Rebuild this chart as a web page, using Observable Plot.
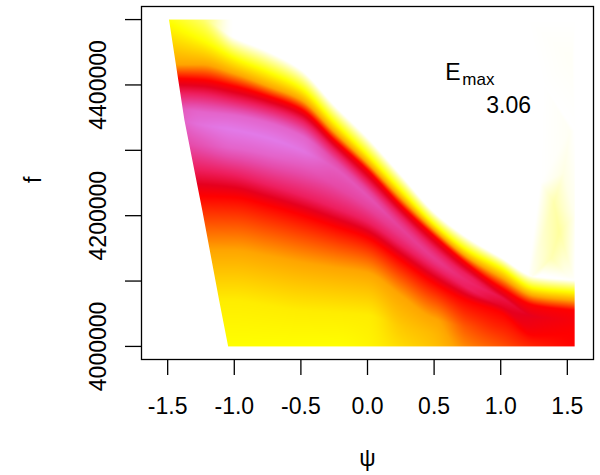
<!DOCTYPE html>
<html>
<head>
<meta charset="utf-8">
<script src="https://cdn.jsdelivr.net/npm/d3@7"></script>
<script src="https://cdn.jsdelivr.net/npm/@observablehq/plot@0.6"></script>
<style>
html,body{margin:0;padding:0;background:#fff;}
#chart svg{display:block;}
</style>
</head>
<body>
<div id="chart"></div>
<script>
// Axis ticks
const xTicks = [-1.5, -1.0, -0.5, 0, 0.5, 1.0, 1.5];
const yTicks = [4000000, 4100000, 4200000, 4300000, 4400000, 4500000];
const yTickLabels = [4000000, 4200000, 4400000];
const eMax = 3.06;

// Colour key (E value -> colour)
const colorStops = [0, 0.5, 1.0, 1.5, 1.72, 2.0, 2.5, 3.06];
const colorRange = ["#ffffff", "#ffff00", "#ffa500", "#ff0000", "#e6001e", "#ee1e5e", "#e64aa8", "#e27ae8"];

// Field read column by column (psi): the same 14 features along every column, top to bottom
// (top, white edge, yellow, orange, red, crimson, upper violet, peak, lower violet,
//  lower crimson, lower red, orange, yellow-orange, bottom)
const psiColumns = [-1.6, -1.25, -1.0, -0.75, -0.5, -0.25, 0, 0.25, 0.5, 0.75, 1.0, 1.25, 1.56];
const fProfiles = [
  [4500000, 4500000, 4500000, 4431000, 4411000, 4389000, 4370000, 4354000, 4316000, 4277000, 4231000, 4150000, 4074000, 4000000],
  [4500000, 4500000, 4469000, 4431000, 4408000, 4386000, 4359000, 4339000, 4308000, 4270000, 4230000, 4147000, 4070000, 4000000],
  [4500000, 4472000, 4441000, 4417000, 4398000, 4377000, 4354000, 4331000, 4303000, 4262000, 4228000, 4147000, 4070000, 4000000],
  [4500000, 4451000, 4420000, 4398000, 4383000, 4365000, 4343000, 4319000, 4293000, 4247000, 4216000, 4139000, 4063000, 4000000],
  [4500000, 4423000, 4395000, 4377000, 4363000, 4346000, 4323000, 4300000, 4277000, 4231000, 4201000, 4129000, 4055000, 4000000],
  [4500000, 4369000, 4343000, 4328000, 4316000, 4300000, 4285000, 4273000, 4247000, 4212000, 4184000, 4121000, 4052000, 4000000],
  [4500000, 4319000, 4293000, 4280000, 4270000, 4251000, 4240000, 4230000, 4212000, 4190000, 4166000, 4113000, 4048000, 4000000],
  [4500000, 4262000, 4239000, 4227000, 4216000, 4199000, 4190000, 4181000, 4168000, 4155000, 4132000, 4078000, 4030000, 4000000],
  [4500000, 4205000, 4187000, 4178000, 4169000, 4150000, 4142000, 4135000, 4128000, 4120000, 4097000, 4043000, 4020000, 4000000],
  [4500000, 4166000, 4147000, 4136000, 4126000, 4109000, 4104000, 4100000, 4095000, 4089000, 4070000, 4030000, 4010000, 4000000],
  [4500000, 4136000, 4120000, 4106000, 4090000, 4080000, 4077000, 4075000, 4070000, 4062000, 4052000, 4030000, 4010000, 4000000],
  [4500000, 4107000, 4089000, 4077000, 4063000, 4055000, 4050000, 4046000, 4040000, 4030000, 4017000, 4010000, 4005000, 4000000],
  [4500000, 4101000, 4083000, 4070000, 4055000, 4050000, 4045000, 4040000, 4035000, 4030000, 4020000, 4010000, 4005000, 4000000]
];
const eProfiles = [
  [0.55, 0.55, 0.55, 1.0, 1.5, 2.0, 2.3, 2.4, 2.3, 2.0, 1.5, 1.0, 0.65, 0.5],
  [0.3, 0.3, 0.5, 1.0, 1.5, 2.0, 2.8, 2.95, 2.6, 2.0, 1.5, 1.0, 0.6, 0.5],
  [0, 0, 0.5, 1.0, 1.5, 2.0, 2.8, 3.06, 2.8, 2.0, 1.5, 1.0, 0.6, 0.5],
  [0, 0, 0.5, 1.0, 1.5, 2.0, 2.8, 3.06, 2.8, 2.0, 1.5, 1.0, 0.6, 0.5],
  [0, 0, 0.5, 1.0, 1.5, 2.0, 2.8, 3.0, 2.7, 2.0, 1.5, 1.0, 0.6, 0.5],
  [0, 0, 0.5, 1.0, 1.5, 2.0, 2.5, 2.7, 2.5, 2.0, 1.5, 1.0, 0.6, 0.5],
  [0, 0, 0.5, 1.0, 1.5, 2.0, 2.4, 2.6, 2.4, 2.0, 1.5, 1.0, 0.6, 0.55],
  [0, 0, 0.5, 1.0, 1.5, 2.0, 2.25, 2.4, 2.25, 2.0, 1.5, 1.0, 0.8, 0.7],
  [0, 0, 0.5, 1.0, 1.5, 2.0, 2.2, 2.3, 2.2, 2.0, 1.5, 1.0, 0.9, 0.85],
  [0, 0, 0.5, 1.0, 1.5, 2.0, 2.05, 2.1, 2.05, 2.0, 1.5, 1.25, 1.15, 1.1],
  [0, 0, 0.5, 1.0, 1.5, 1.75, 1.85, 1.9, 1.85, 1.75, 1.5, 1.4, 1.3, 1.25],
  [0, 0, 0.5, 1.0, 1.5, 1.6, 1.65, 1.7, 1.65, 1.6, 1.5, 1.45, 1.42, 1.4],
  [0, 0, 0.5, 1.0, 1.5, 1.52, 1.54, 1.55, 1.54, 1.52, 1.5, 1.5, 1.5, 1.5]
];

// Faint pale-yellow traces at the upper right (psi, f, E)
const glowPsi = [1.40, 1.44, 1.38, 1.47, 1.52, 1.53, 1.555, 1.48, 1.20, 1.20, 1.32, 1.30, 1.30, 1.555, 1.555, 1.42, 1.555];
const glowF = [4220000, 4175000, 4135000, 4265000, 4330000, 4440000, 4200000, 4112000, 4500000, 4100000, 4400000, 4250000, 4110000, 4100000, 4500000, 4500000, 4330000];
const glowE = [0.16, 0.19, 0.15, 0.05, 0.02, 0.015, 0.03, 0.04, 0, 0, 0, 0, 0, 0, 0, 0, 0];

// Left boundary of the computed region
const edgeF = [4510000, 4500000, 4346000, 4208000, 4070000, 4000000, 3990000];
const edgePsi = [-1.487, -1.487, -1.371, -1.237, -1.110, -1.043, -1.043];

// Rendering of the read profiles: knot positions follow the columns with a monotone cubic,
// values between knots along f are linear
function monotone(xs, ys) {
  const n = xs.length, d = [], m = new Array(n);
  for (let i = 0; i < n - 1; i++) d.push((ys[i + 1] - ys[i]) / (xs[i + 1] - xs[i]));
  m[0] = d[0]; m[n - 1] = d[n - 2];
  for (let i = 1; i < n - 1; i++) {
    if (d[i - 1] * d[i] <= 0) m[i] = 0;
    else {
      const h0 = xs[i] - xs[i - 1], h1 = xs[i + 1] - xs[i];
      const w1 = 2 * h1 + h0, w2 = h1 + 2 * h0;
      m[i] = (w1 + w2) / (w1 / d[i - 1] + w2 / d[i]);
    }
  }
  return x => {
    if (x <= xs[0]) return ys[0];
    if (x >= xs[n - 1]) return ys[n - 1];
    const i = Math.min(n - 2, d3.bisectRight(xs, x) - 1);
    const h = xs[i + 1] - xs[i], t = (x - xs[i]) / h, t2 = t * t, t3 = t2 * t;
    return (2 * t3 - 3 * t2 + 1) * ys[i] + (t3 - 2 * t2 + t) * h * m[i]
         + (-2 * t3 + 3 * t2) * ys[i + 1] + (t3 - t2) * h * m[i + 1];
  };
}
const knotCount = fProfiles[0].length;
const fAt = d3.range(knotCount).map(k => monotone(psiColumns, fProfiles.map(p => p[k])));
const eAt = d3.range(knotCount).map(k => monotone(psiColumns, eProfiles.map(p => p[k])));
const cache = new Map();
function knotsAt(psi) {
  let c = cache.get(psi);
  if (!c) {
    c = {f: fAt.map(g => g(psi)), e: eAt.map(g => g(psi))};
    for (let k = 1; k < knotCount; k++) if (c.f[k] > c.f[k - 1]) c.f[k] = c.f[k - 1];
    cache.set(psi, c);
  }
  return c;
}
function field(psi, f) {
  const {f: F, e: E} = knotsAt(psi);
  if (f >= F[0]) return E[0];
  for (let k = 1; k < knotCount; k++) {
    if (f >= F[k]) {
      const t = F[k - 1] === F[k] ? 0 : (F[k - 1] - f) / (F[k - 1] - F[k]);
      return E[k - 1] + t * (E[k] - E[k - 1]);
    }
  }
  return E[knotCount - 1];
}

const glow = glowPsi.map((p, i) => ({psi: p, f: glowF[i], e: glowE[i]}));
const edge = edgeF.map((f, i) => ({f, psi: edgePsi[i]}));

const font = "'Liberation Sans', Arial, sans-serif";

const plot = Plot.plot({
  width: 600,
  height: 475,
  marginLeft: 141,
  marginRight: 7,
  marginTop: 6,
  marginBottom: 116,
  style: {fontFamily: font, background: "white", color: "black"},
  x: {domain: [-1.6965, 1.6965], label: null},
  y: {domain: [3980000, 4520000], label: null},
  color: {type: "linear", domain: colorStops, range: colorRange, interpolate: "rgb", clamp: true},
  marks: [
    Plot.raster(glow, {x: "psi", y: "f", fill: "e", interpolate: "barycentric",
      x1: 1.2, x2: 1.555, y1: 4100000, y2: 4500000}),
    Plot.raster({fill: (x, y) => { const e = field(x, y); return e > 0.002 ? e : NaN; },
      x1: -1.6, x2: 1.555, y1: 4000000, y2: 4500000}),
    Plot.areaX(edge, {y: "f", x1: -1.65, x2: "psi", fill: "white"}),
    Plot.frame({stroke: "black", strokeWidth: 1.3}),
    Plot.axisX({ticks: xTicks, tickSize: 16, tickPadding: 22, fontSize: 23, strokeWidth: 1.3,
      tickFormat: d => d.toFixed(1), label: null}),
    Plot.axisY({ticks: yTicks, tickSize: 16, tickPadding: 20, fontSize: 23, strokeWidth: 1.3, tickRotate: -90,
      tickFormat: d => yTickLabels.includes(d) ? String(d) : "", label: null}),
    Plot.text(["f"], {frameAnchor: "left", dx: -108, rotate: -90, fontSize: 23, text: d => d}),
    Plot.text(["ψ"], {frameAnchor: "bottom", dy: 106, fontSize: 23, text: d => d}),
    Plot.text(["E"], {x: 0.584, y: 4407700, text: d => d, textAnchor: "start", lineAnchor: "bottom", fontSize: 23}),
    Plot.text(["max"], {x: 0.584, y: 4407700, dx: 17, dy: 5, text: d => d, textAnchor: "start", lineAnchor: "bottom", fontSize: 17}),
    Plot.text([eMax], {x: 0.584, y: 4407700, dx: 41, dy: 33, text: d => d.toFixed(2), textAnchor: "start", lineAnchor: "bottom", fontSize: 23})
  ]
});
document.getElementById("chart").appendChild(plot);
</script>
</body>
</html>
